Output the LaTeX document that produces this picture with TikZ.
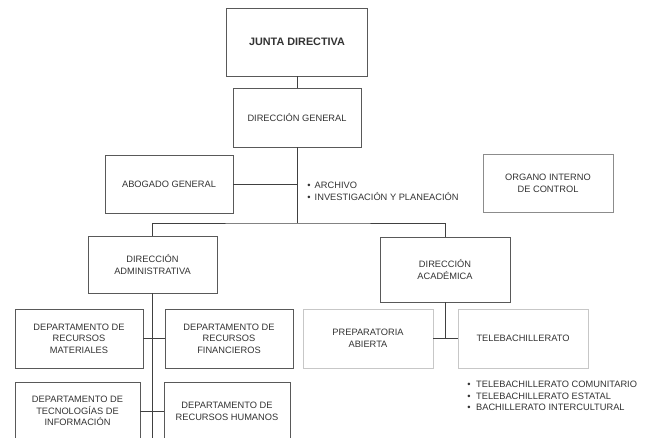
\documentclass[tikz,border=0pt]{standalone}
\usepackage{fontspec}
\setmainfont{Liberation Sans}
\usetikzlibrary{positioning}

\begin{document}
\begin{tikzpicture}[x=0.25mm, y=-0.25mm,
  font=\fontsize{6.6}{8.3}\selectfont,
  unit/.style={draw=black!65, line width=0.6pt, text=black!80, align=center,
    inner sep=1pt, minimum width=32mm, minimum height=14.5mm},
  faint/.style={unit, draw=black!22},
  link/.style={draw=black!75, line width=0.6pt},
  list/.style={align=left, anchor=west, text=black!80, inner sep=0pt}]
\clip (0,0) rectangle (647,437);

% upper levels
\node[unit, minimum width=35.25mm, minimum height=17mm,
      font=\fontsize{7.7}{9}\selectfont\bfseries] (junta) at (297,42) {JUNTA DIRECTIVA};
\node[unit, minimum height=14.75mm] (dirgen)  at (297,117.5) {DIRECCIÓN GENERAL};
\node[unit] (abogado) at (169,184) {ABOGADO GENERAL};
\node[unit, minimum width=32.5mm, draw=black!45] (organo) at (548,183) {ORGANO INTERNO\\DE CONTROL};
\node[list] (staff) at (307,191) {\textbullet\hspace{3pt}ARCHIVO\\\textbullet\hspace{3pt}INVESTIGACIÓN Y PLANEACIÓN};

% direcciones
\node[unit, minimum width=32.25mm, minimum height=14.25mm] (diradm) at (152.5,264.5) {DIRECCIÓN\\ADMINISTRATIVA};
\node[unit, minimum width=32.5mm, minimum height=16.25mm] (diracad) at (445,269.5) {DIRECCIÓN\\ACADÉMICA};

% departamentos
\node[unit, minimum height=14.75mm] (materiales)  at (79,338.5)  {DEPARTAMENTO DE\\RECURSOS\\MATERIALES};
\node[unit, minimum height=14.75mm] (financieros) at (229,338.5) {DEPARTAMENTO DE\\RECURSOS\\FINANCIEROS};
\node[unit, minimum width=31.25mm, minimum height=14.5mm] (tecnologias) at (77.5,411) {DEPARTAMENTO DE\\TECNOLOGÍAS DE\\INFORMACIÓN};
\node[unit, minimum width=31.5mm, minimum height=14.5mm] (humanos) at (227,411) {DEPARTAMENTO DE\\RECURSOS HUMANOS};

% academica
\node[faint, minimum width=32.5mm, minimum height=14.75mm] (prepa) at (368,338.5) {PREPARATORIA\\ABIERTA};
\node[faint, minimum width=32.5mm, minimum height=14.75mm] (telebach) at (523,338.5) {TELEBACHILLERATO};
\node[list] (modalidades) at (467,396) {\textbullet\hspace{4pt}TELEBACHILLERATO COMUNITARIO\\\textbullet\hspace{4pt}TELEBACHILLERATO ESTATAL\\\textbullet\hspace{4pt}BACHILLERATO INTERCULTURAL};

\coordinate (bar) at (297,223);
\coordinate (gen) at (297,184);
\coordinate (admbot) at (152.5,440);
\coordinate (acadbot) at (445,338.5);

\path[link] (junta) edge (dirgen)
            (dirgen) edge (bar)
            (abogado) edge (gen)
            (diradm) edge (admbot)
            (materiales) edge (financieros)
            (tecnologias) edge (humanos)
            (diracad) edge (acadbot)
            (prepa) edge (telebach);
\draw[link] (diradm.north) |- (bar) -| (diracad.north);
\end{tikzpicture}
\end{document}
